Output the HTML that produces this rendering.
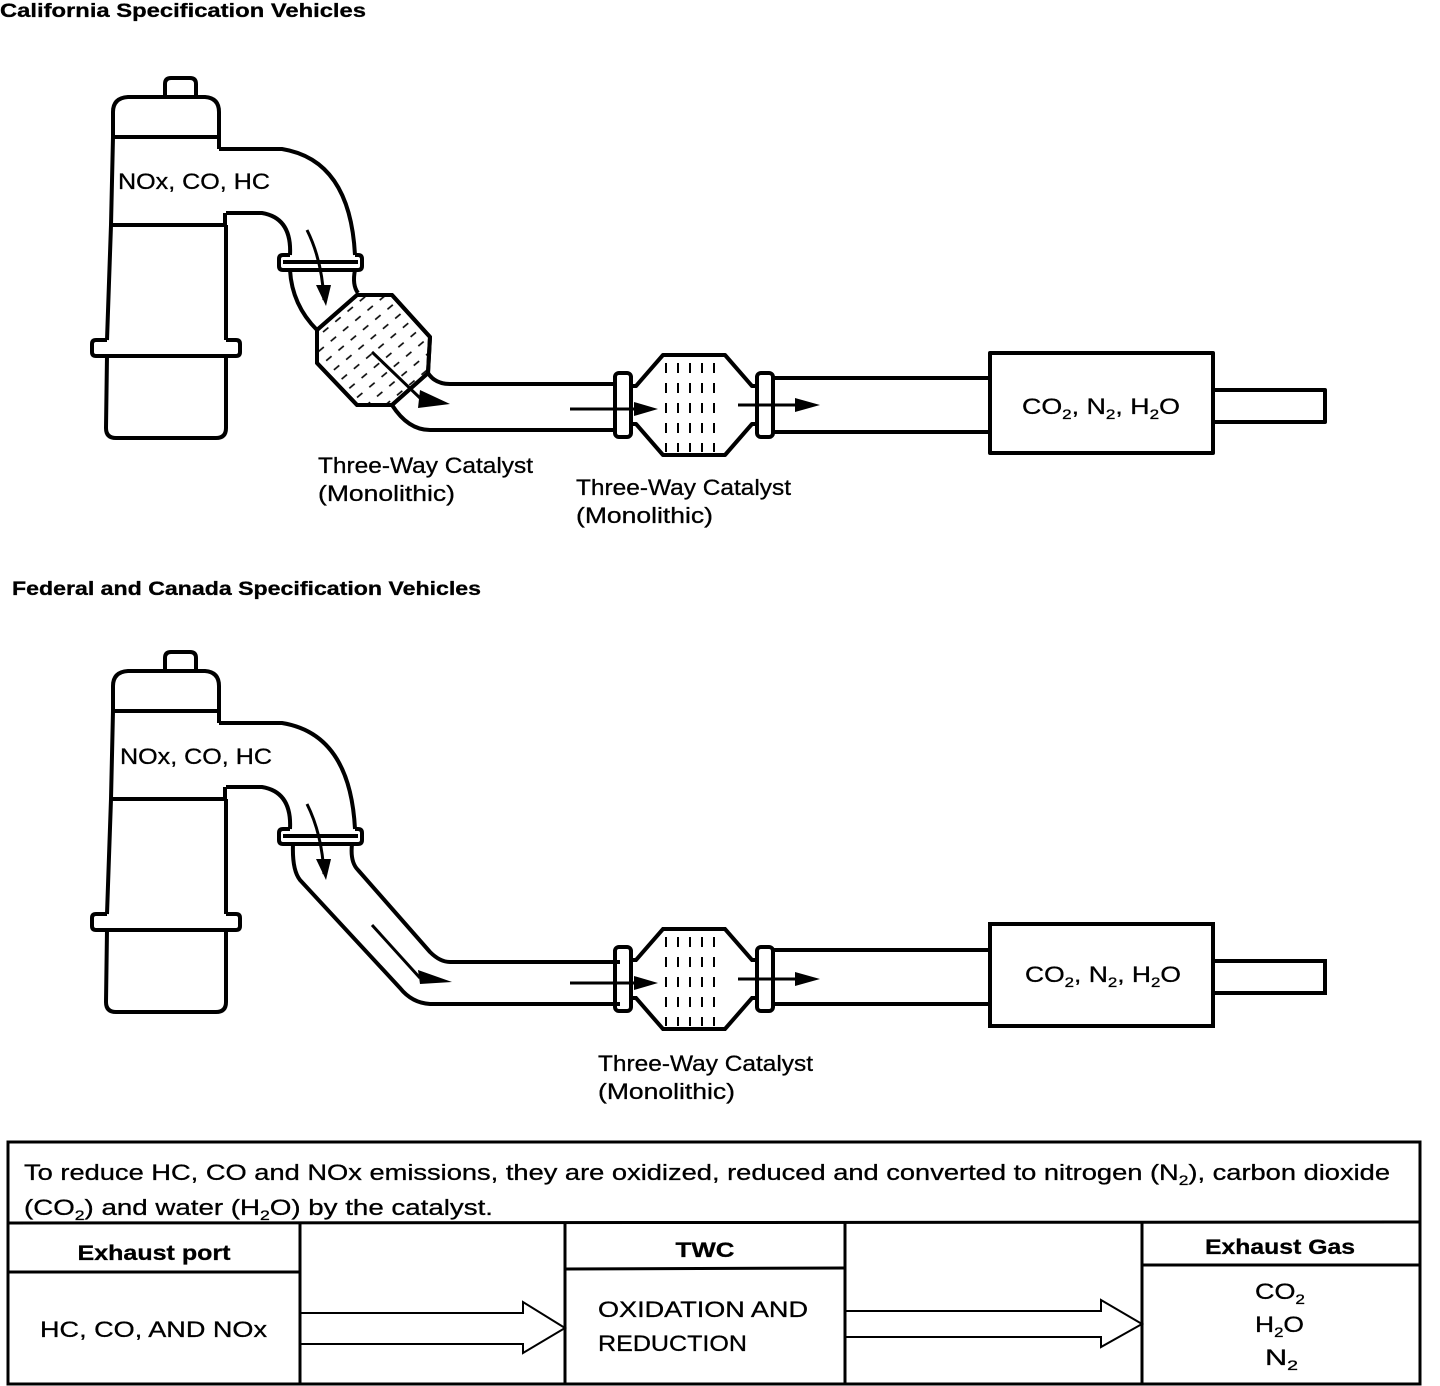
<!DOCTYPE html>
<html><head><meta charset="utf-8"><style>
html,body{margin:0;padding:0;background:#fff;width:1440px;height:1386px;overflow:hidden}
svg{display:block}
text{font-family:"Liberation Sans",sans-serif;fill:#000;stroke:#000;stroke-width:0.3}
</style></head><body>
<svg width="1440" height="1386" viewBox="0 0 1440 1386" xmlns="http://www.w3.org/2000/svg">
<defs>
<pattern id="dh" width="16" height="12" patternUnits="userSpaceOnUse" patternTransform="rotate(-40)">
<line x1="2" y1="6" x2="9" y2="6" stroke="#000" stroke-width="1.6"/>
</pattern>
<pattern id="dv" width="12" height="20" patternUnits="userSpaceOnUse">
<line x1="6" y1="3" x2="6" y2="13" stroke="#000" stroke-width="2"/>
</pattern>
<g id="engine" fill="none" stroke="#000" stroke-width="4" stroke-linejoin="round">
<path d="M165,97 V84 Q165,78 171,78 H190 Q196,78 196,84 V97"/>
<path d="M113,137 V112 Q113,98 128,97 H205 Q219,98 219,112 V137"/>
<path d="M113,137 H219 V149 M113,137 L111,225 M111,225 H225 V213"/>
<path d="M111,225 L107,340 M226,225 L226,340"/>
<path d="M107,340 H96 Q92,340 92,344 V352 Q92,356 96,356 H236 Q240,356 240,352 V344 Q240,340 236,340 H226"/>
<path d="M107,356 L106,428 Q106,438 116,438 H216 Q226,438 226,428 V356"/>
<path d="M226,213 H262 Q292,218 290,255"/>
<path d="M219,149 H282 Q350,160 355,255"/>
<path d="M290,255 H283 Q279,255 279,259 V266 Q279,270 283,270 H358 Q362,270 362,266 V259 Q362,255 358,255 H355"/>
<line x1="283" y1="262" x2="358" y2="262"/>
<path d="M307,230 Q322,260 324,300" stroke-width="3"/>
<polygon points="316,285 331,285 326,306" fill="#000" stroke="none"/>
</g>
<g id="cat2" stroke="#000" stroke-width="4" fill="none" stroke-linejoin="round">
<rect x="615" y="373" width="16" height="64" rx="4"/>
<rect x="757" y="373" width="16" height="64" rx="4"/>
<path d="M631,386 H636 L663,355 H725 L752,386 H757"/>
<path d="M631,424 H636 L663,455 H725 L752,424 H757"/>
<rect x="664" y="358" width="60" height="94" fill="url(#dv)" stroke="none"/>
<line x1="570" y1="409" x2="640" y2="409" stroke-width="3"/>
<polygon points="634,402 658,409 634,416" fill="#000" stroke="none"/>
<line x1="738" y1="405" x2="800" y2="405" stroke-width="3"/>
<polygon points="795,398 820,405 795,412" fill="#000" stroke="none"/>
<path d="M773,378 H990 M773,432 H990"/>
<rect x="990" y="353" width="223" height="100"/>
<rect x="1213" y="390" width="112" height="32"/>
</g>
</defs>

<text x="0" y="17" font-size="19" font-weight="bold" textLength="366" lengthAdjust="spacingAndGlyphs">California Specification Vehicles</text>
<text x="12" y="595" font-size="19" font-weight="bold" textLength="469" lengthAdjust="spacingAndGlyphs">Federal and Canada Specification Vehicles</text>

<!-- Top diagram -->
<use href="#engine"/>
<g stroke="#000" stroke-width="4" fill="none" stroke-linejoin="round">
<path d="M290,270 Q292,305 317,330"/>
<path d="M355,270 Q352,285 358,293"/>
<polygon points="317,330 357,295 392,295 430,337 428,373 392,405 357,405 317,363" fill="url(#dh)"/>
<polygon points="317,330 357,295 392,295 430,337 428,373 392,405 357,405 317,363"/>
<path d="M428,373 Q435,384 450,384 H615"/>
<path d="M392,405 Q408,430 430,430 H615"/>
<line x1="372" y1="352" x2="420" y2="398" stroke-width="3"/>
<polygon points="420,390 450,404 418,408" fill="#000" stroke="none"/>
</g>
<use href="#cat2"/>
<text x="118" y="189" font-size="22" textLength="152" lengthAdjust="spacingAndGlyphs">NOx, CO, HC</text>
<text x="1022" y="414" font-size="22" textLength="158" lengthAdjust="spacingAndGlyphs">CO<tspan font-size="14" dy="5">2</tspan><tspan dy="-5">, N</tspan><tspan font-size="14" dy="5">2</tspan><tspan dy="-5">, H</tspan><tspan font-size="14" dy="5">2</tspan><tspan dy="-5">O</tspan></text>
<text x="318" y="473" font-size="22" textLength="215" lengthAdjust="spacingAndGlyphs">Three-Way Catalyst</text>
<text x="318" y="501" font-size="22" textLength="137" lengthAdjust="spacingAndGlyphs">(Monolithic)</text>
<text x="576" y="495" font-size="22" textLength="215" lengthAdjust="spacingAndGlyphs">Three-Way Catalyst</text>
<text x="576" y="523" font-size="22" textLength="137" lengthAdjust="spacingAndGlyphs">(Monolithic)</text>

<!-- Bottom diagram -->
<g transform="translate(0,574)"><use href="#engine"/></g>
<g stroke="#000" stroke-width="4" fill="none" stroke-linejoin="round">
<path d="M293,844 Q292,870 300,880 L400,988 Q412,1003 430,1004 H620"/>
<path d="M352,844 Q350,862 358,870 L430,952 Q440,962 450,962 H620"/>
<line x1="372" y1="925" x2="420" y2="978" stroke-width="3"/>
<polygon points="418,970 452,982 420,984" fill="#000" stroke="none"/>
</g>
<g transform="translate(0,574)">
<g stroke="#000" stroke-width="4" fill="none">
<rect x="615" y="373" width="16" height="64" rx="4"/>
<rect x="757" y="373" width="16" height="64" rx="4"/>
<path d="M631,386 H636 L663,355 H725 L752,386 H757"/>
<path d="M631,424 H636 L663,455 H725 L752,424 H757"/>
<rect x="664" y="358" width="60" height="94" fill="url(#dv)" stroke="none"/>
<line x1="570" y1="409" x2="640" y2="409" stroke-width="3"/>
<polygon points="634,402 658,409 634,416" fill="#000" stroke="none"/>
<line x1="738" y1="405" x2="800" y2="405" stroke-width="3"/>
<polygon points="795,398 820,405 795,412" fill="#000" stroke="none"/>
<path d="M773,376 H990 M773,430 H990"/>
<rect x="990" y="350" width="223" height="102"/>
<rect x="1213" y="387" width="112" height="32"/>
</g>
</g>
<text x="120" y="764" font-size="22" textLength="152" lengthAdjust="spacingAndGlyphs">NOx, CO, HC</text>
<text x="1025" y="982" font-size="22" textLength="156" lengthAdjust="spacingAndGlyphs">CO<tspan font-size="14" dy="5">2</tspan><tspan dy="-5">, N</tspan><tspan font-size="14" dy="5">2</tspan><tspan dy="-5">, H</tspan><tspan font-size="14" dy="5">2</tspan><tspan dy="-5">O</tspan></text>
<text x="598" y="1071" font-size="22" textLength="215" lengthAdjust="spacingAndGlyphs">Three-Way Catalyst</text>
<text x="598" y="1099" font-size="22" textLength="137" lengthAdjust="spacingAndGlyphs">(Monolithic)</text>

<!-- Table -->
<g stroke="#000" stroke-width="3" fill="none">
<rect x="8" y="1142" width="1412" height="242"/>
<line x1="8" y1="1223" x2="1420" y2="1222"/>
<line x1="300" y1="1223" x2="300" y2="1384"/>
<line x1="565" y1="1223" x2="565" y2="1384"/>
<line x1="845" y1="1223" x2="845" y2="1384"/>
<line x1="1142" y1="1222" x2="1142" y2="1384"/>
<line x1="8" y1="1272" x2="300" y2="1272"/>
<line x1="565" y1="1269" x2="845" y2="1268"/>
<line x1="1142" y1="1265" x2="1420" y2="1265"/>
<path d="M300,1313 H523 V1302 L565,1328 L523,1353 V1344 H300" stroke-width="2"/>
<path d="M845,1311 H1101 V1300 L1142,1324 L1101,1347 V1337 H845" stroke-width="2"/>
</g>
<text x="24" y="1180" font-size="22" textLength="1366" lengthAdjust="spacingAndGlyphs">To reduce HC, CO and NOx emissions, they are oxidized, reduced and converted to nitrogen (N<tspan font-size="14" dy="5">2</tspan><tspan dy="-5">), carbon dioxide</tspan></text>
<text x="24" y="1215" font-size="22" textLength="469" lengthAdjust="spacingAndGlyphs">(CO<tspan font-size="14" dy="5">2</tspan><tspan dy="-5">) and water (H</tspan><tspan font-size="14" dy="5">2</tspan><tspan dy="-5">O) by the catalyst.</tspan></text>
<text x="154" y="1260" font-size="21" font-weight="bold" text-anchor="middle" textLength="153" lengthAdjust="spacingAndGlyphs">Exhaust port</text>
<text x="705" y="1257" font-size="21" font-weight="bold" text-anchor="middle" textLength="59" lengthAdjust="spacingAndGlyphs">TWC</text>
<text x="1280" y="1254" font-size="21" font-weight="bold" text-anchor="middle" textLength="150" lengthAdjust="spacingAndGlyphs">Exhaust Gas</text>
<text x="40" y="1337" font-size="22" textLength="227" lengthAdjust="spacingAndGlyphs">HC, CO, AND NOx</text>
<text x="598" y="1317" font-size="22" textLength="210" lengthAdjust="spacingAndGlyphs">OXIDATION AND</text>
<text x="598" y="1351" font-size="22" textLength="149" lengthAdjust="spacingAndGlyphs">REDUCTION</text>
<text x="1255" y="1299" font-size="22" textLength="50" lengthAdjust="spacingAndGlyphs">CO<tspan font-size="14" dy="5">2</tspan></text>
<text x="1255" y="1332" font-size="22" textLength="49" lengthAdjust="spacingAndGlyphs">H<tspan font-size="14" dy="5">2</tspan><tspan dy="-5">O</tspan></text>
<text x="1265" y="1365" font-size="22" textLength="33" lengthAdjust="spacingAndGlyphs">N<tspan font-size="14" dy="5">2</tspan></text>
</svg>
</body></html>
